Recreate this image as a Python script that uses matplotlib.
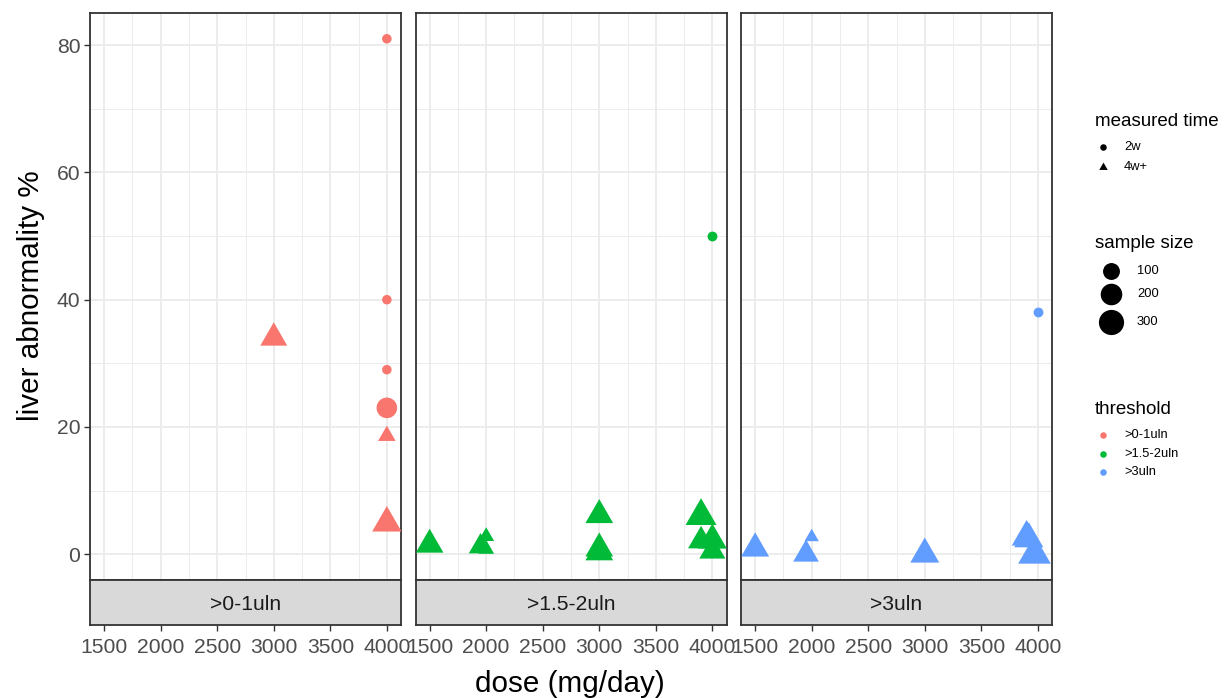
import numpy as np
import matplotlib
matplotlib.use("Agg")
import matplotlib.pyplot as plt
from matplotlib.path import Path

plt.rcParams['font.family'] = ['Liberation Sans', 'DejaVu Sans']

# ---------------- data ----------------
facets = [">0-1uln", ">1.5-2uln", ">3uln"]
facet_colors = ["#F8766D", "#00BA38", "#619CFF"]

dose_a = [4000, 4000, 4000, 4000, 3000, 4000, 4000]
pct_a = [81, 40, 29, 23, 34, 18.6, 4.9]
time_a = ["2w", "2w", "2w", "2w", "4w+", "4w+", "4w+"]
n_a = [12, 12, 12, 176, 163, 44, 207]

dose_b = [4000, 1500, 1950, 2000, 2000, 3000, 3000, 3000, 3900, 3900, 4000, 4000]
pct_b = [50, 1.5, 1.2, 2.8, 0.8, 6.15, 0.9, 0.3, 6.0, 2.1, 2.2, 0.5]
time_b = ["2w", "4w+", "4w+", "4w+", "4w+", "4w+", "4w+", "4w+", "4w+", "4w+", "4w+", "4w+"]
n_b = [14, 174, 110, 30, 30, 176, 176, 176, 237, 147, 200, 150]

dose_c = [4000, 1500, 2000, 1950, 3000, 3900, 3920, 3970]
pct_c = [38, 0.9, 2.7, 0.0, 0.0, 2.7, 2.4, 0.0]
time_c = ["2w", "4w+", "4w+", "4w+", "4w+", "4w+", "4w+", "4w+"]
n_c = [14, 181, 20, 141, 198, 210, 200, 273]

x_ticks = [1500, 2000, 2500, 3000, 3500, 4000]
y_ticks = [0, 20, 40, 60, 80]
size_breaks = [100, 200, 300]
time_levels = ["2w", "4w+"]

panel_data = [
    (dose_a, pct_a, time_a, n_a),
    (dose_b, pct_b, time_b, n_b),
    (dose_c, pct_c, time_c, n_c),
]

# ---------------- styling helpers ----------------
DPI = 100
W, H = 1224, 698
PX2PT = 72.0 / DPI

TRI = Path([(0, 1), (-0.8660254, -0.5), (0.8660254, -0.5), (0, 1)],
           [Path.MOVETO, Path.LINETO, Path.LINETO, Path.CLOSEPOLY])


def circle_diam_px(n):
    return 5.6 + 1.13 * np.sqrt(np.asarray(n, dtype=float))


def scatter_s(n, shape):
    d = circle_diam_px(n)
    if shape == "2w":
        side = d
    else:
        side = 2 * (1.555 * d / 2)  # circumradius*2
    return (side * PX2PT) ** 2


fig = plt.figure(figsize=(W / DPI, H / DPI), dpi=DPI)


def px_axes(x0, y0, x1, y1):
    return fig.add_axes([x0 / W, 1 - y1 / H, (x1 - x0) / W, (y1 - y0) / H])


panel_left = [90.0, 415.5, 741.0]
panel_w = 311.0
panel_top, panel_bot = 13.0, 580.0
strip_bot = 625.0

xlim = (1375, 4125)
ylim = (-4.05, 85.05)
grid_col = "#EBEBEB"
dark = "#333333"
tick_fs = 15.2

for i in range(3):
    x0 = panel_left[i]
    ax = px_axes(x0, panel_top, x0 + panel_w, panel_bot)
    ax.set_xlim(*xlim)
    ax.set_ylim(*ylim)
    # grid
    for xv in np.arange(1500, 4001, 250):
        major = xv % 500 == 0
        ax.axvline(xv, color=grid_col, lw=1.3 if major else 0.65, zorder=0)
    for yv in np.arange(0, 81, 10):
        major = yv % 20 == 0
        ax.axhline(yv, color=grid_col, lw=1.3 if major else 0.65, zorder=0)
    d, p, t, n = panel_data[i]
    for lev in time_levels:
        idx = [k for k in range(len(d)) if t[k] == lev]
        if not idx:
            continue
        ax.scatter([d[k] for k in idx], [p[k] for k in idx],
                   s=[scatter_s(n[k], lev) for k in idx],
                   marker="o" if lev == "2w" else TRI,
                   color=facet_colors[i], linewidths=0, zorder=3)
    ax.set_xticks([])
    if i == 0:
        ax.set_yticks(y_ticks)
        ax.set_yticklabels([str(v) for v in y_ticks], fontsize=tick_fs, color="#4D4D4D")
        ax.tick_params(axis="y", length=4, width=1.0, color=dark, pad=3)
    else:
        ax.set_yticks([])
    for sp in ax.spines.values():
        sp.set_color(dark)
        sp.set_linewidth(1.3)

    # strip
    sax = px_axes(x0, panel_bot, x0 + panel_w, strip_bot)
    sax.set_facecolor("#D9D9D9")
    sax.set_xlim(*xlim)
    sax.set_ylim(0, 1)
    sax.set_yticks([])
    sax.set_xticks(x_ticks)
    sax.set_xticklabels([str(v) for v in x_ticks], fontsize=tick_fs, color="#4D4D4D")
    sax.tick_params(axis="x", length=4.5, width=1.0, color=dark, pad=5)
    for sp in sax.spines.values():
        sp.set_color(dark)
        sp.set_linewidth(1.3)
    sax.text(0.5, 0.46, facets[i], transform=sax.transAxes, ha="center",
             va="center", fontsize=tick_fs, color="#1A1A1A")

# axis titles
fig.text(570 / W, 1 - 684 / H, "dose (mg/day)", ha="center", va="center",
         fontsize=21.3, color="black")
fig.text(31 / W, 1 - 296 / H, "liver abnormality %", ha="center", va="center",
         rotation=90, fontsize=21.3, color="black")

# ---------------- legends ----------------
lax = fig.add_axes([0, 0, 1, 1], facecolor="none")
lax.set_xlim(0, W)
lax.set_ylim(H, 0)
lax.axis("off")

title_fs = 13.5
lab_fs = 9.3

lax.text(1095, 121, "measured time", fontsize=title_fs, va="center", ha="left")
key_s_circ = (6.5 * PX2PT) ** 2
key_s_tri = (2 * 4.9 * PX2PT) ** 2
lax.scatter([1103], [147], s=key_s_circ, marker="o", color="black", linewidths=0)
lax.scatter([1103], [167], s=key_s_tri, marker=TRI, color="black", linewidths=0)
lax.text(1124, 147, time_levels[0], fontsize=lab_fs, va="center", ha="left")
lax.text(1124, 167, time_levels[1], fontsize=lab_fs, va="center", ha="left")

lax.text(1095, 244, "sample size", fontsize=title_fs, va="center", ha="left")
for yv, b in zip([271, 294, 322], size_breaks):
    lax.scatter([1111], [yv], s=scatter_s(b, "2w"), marker="o", color="black", linewidths=0)
    lax.text(1137, yv, str(b), fontsize=lab_fs, va="center", ha="left")

lax.text(1095, 409, "threshold", fontsize=title_fs, va="center", ha="left")
for yv, lab, col in zip([435, 454, 472], facets, facet_colors):
    lax.scatter([1103], [yv], s=key_s_circ, marker="o", color=col, linewidths=0)
    lax.text(1124, yv, lab, fontsize=lab_fs, va="center", ha="left")

fig.savefig("out.png", dpi=DPI)
